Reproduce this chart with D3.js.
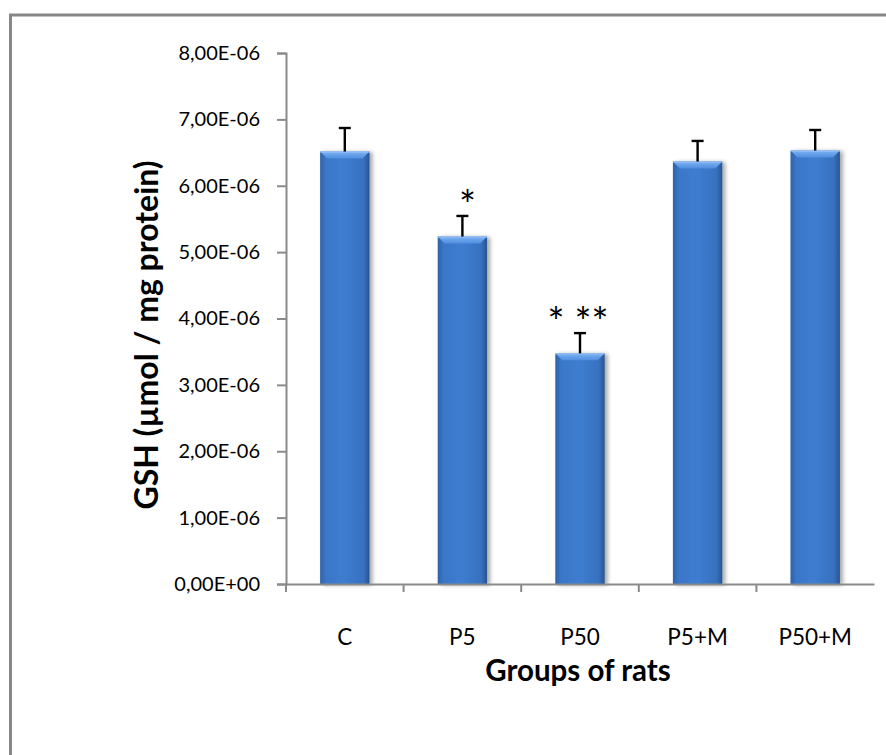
<!DOCTYPE html>
<html>
<head>
<meta charset="utf-8">
<script src="https://cdn.jsdelivr.net/npm/d3@7"></script>
<style>
  html, body { margin: 0; padding: 0; background: #ffffff; }
  svg { display: block; }
  text { font-family: Lato, "Open Sans", "Liberation Sans", sans-serif; fill: #000; }
</style>
</head>
<body>
<svg id="chart" width="886" height="755"></svg>
<script>
// GSH level per group of rats (µmol / mg protein)
const groups = ["C", "P5", "P50", "P5+M", "P50+M"];
const gshMean = [6.515e-6, 5.235e-6, 3.475e-6, 6.365e-6, 6.53e-6];
const gshError = [0.355e-6, 0.31e-6, 0.305e-6, 0.31e-6, 0.31e-6];
const significance = ["", "*", "* **", "", ""];
const yTicks = [0, 1e-6, 2e-6, 3e-6, 4e-6, 5e-6, 6e-6, 7e-6, 8e-6];
const yTitle = "GSH (µmol / mg protein)";
const xTitle = "Groups of rats";

const svg = d3.select("#chart");

// outer frame of the chart area
svg.append("rect")
  .attr("x", 10.5).attr("y", 15)
  .attr("width", 900).attr("height", 800)
  .attr("fill", "none")
  .attr("stroke", "#878787")
  .attr("stroke-width", 3);

const plot = { left: 286, right: 874, top: 53, bottom: 584 };

const x = d3.scaleBand()
  .domain(groups)
  .range([plot.left, plot.right])
  .padding(0);

const y = d3.scaleLinear()
  .domain([0, 8e-6])
  .range([plot.bottom, plot.top]);

// Excel-style scientific notation with comma decimal: 8,00E-06
function sciComma(v) {
  const [m, e] = d3.format(".2e")(v).split("e");
  const exp = parseInt(e, 10);
  const sign = exp < 0 ? "-" : "+";
  return m.replace(".", ",") + "E" + sign + String(Math.abs(exp)).padStart(2, "0");
}

const defs = svg.append("defs");

const bodyGrad = defs.append("linearGradient").attr("id", "barBody")
  .attr("x1", "0").attr("x2", "1").attr("y1", "0").attr("y2", "0");
bodyGrad.append("stop").attr("offset", "0%").attr("stop-color", "#2f62a8");
bodyGrad.append("stop").attr("offset", "12%").attr("stop-color", "#3a77c9");
bodyGrad.append("stop").attr("offset", "50%").attr("stop-color", "#3d7dd0");
bodyGrad.append("stop").attr("offset", "88%").attr("stop-color", "#3771bf");
bodyGrad.append("stop").attr("offset", "100%").attr("stop-color", "#28548f");

const topGrad = defs.append("linearGradient").attr("id", "barTop")
  .attr("x1", "0").attr("x2", "0").attr("y1", "0").attr("y2", "1");
topGrad.append("stop").attr("offset", "0%").attr("stop-color", "#7fb2f2");
topGrad.append("stop").attr("offset", "100%").attr("stop-color", "#4f8ee0");

const shadow = defs.append("filter").attr("id", "barShadow")
  .attr("x", "-30%").attr("y", "-10%").attr("width", "160%").attr("height", "120%");
shadow.append("feGaussianBlur").attr("in", "SourceAlpha").attr("stdDeviation", 2);
shadow.append("feOffset").attr("dx", 3).attr("dy", 1).attr("result", "off");
shadow.append("feComponentTransfer").append("feFuncA").attr("type", "linear").attr("slope", 0.35);
const merge = shadow.append("feMerge");
merge.append("feMergeNode");
merge.append("feMergeNode").attr("in", "SourceGraphic");

// y axis
const yAxis = svg.append("g")
  .attr("transform", `translate(${plot.left},0)`)
  .call(d3.axisLeft(y).tickValues(yTicks).tickFormat(sciComma).tickSize(9).tickPadding(17));
yAxis.attr("font-family", null).attr("font-size", null);
yAxis.select(".domain").attr("stroke", "#8a8a8a").attr("stroke-width", 2);
yAxis.selectAll(".tick line").attr("stroke", "#8a8a8a").attr("stroke-width", 2);
yAxis.selectAll(".tick text")
  .attr("font-size", 20)
  .attr("fill", "#000");

// bars
const barW = x.bandwidth() * 0.42;
const bev = 7;
const bars = svg.append("g").selectAll("g.bar")
  .data(groups.map((g, i) => ({ g, v: gshMean[i], e: gshError[i], s: significance[i] })))
  .join("g").attr("class", "bar");

bars.each(function (d) {
  const gEl = d3.select(this);
  const cx = x(d.g) + x.bandwidth() / 2;
  const x0 = cx - barW / 2, x1 = cx + barW / 2;
  const yt = y(d.v), yb = y(0);
  const body = gEl.append("g").attr("filter", "url(#barShadow)");
  body.append("rect")
    .attr("x", x0).attr("y", yt).attr("width", barW).attr("height", yb - yt)
    .attr("fill", "url(#barBody)");
  body.append("polygon")
    .attr("points", [[x0, yt], [x1, yt], [x1 - bev, yt + bev], [x0 + bev, yt + bev]].map(p => p.join(",")).join(" "))
    .attr("fill", "url(#barTop)");
  body.append("line")
    .attr("x1", x0).attr("x2", x1).attr("y1", yt + 0.5).attr("y2", yt + 0.5)
    .attr("stroke", "#9cc4f6").attr("stroke-width", 1);
});

// error bars
const capW = 12;
bars.each(function (d) {
  const gEl = d3.select(this);
  const cx = x(d.g) + x.bandwidth() / 2;
  gEl.append("line")
    .attr("x1", cx).attr("x2", cx)
    .attr("y1", y(d.v)).attr("y2", y(d.v + d.e))
    .attr("stroke", "#000").attr("stroke-width", 2.4);
  gEl.append("line")
    .attr("x1", cx - capW / 2).attr("x2", cx + capW / 2)
    .attr("y1", y(d.v + d.e)).attr("y2", y(d.v + d.e))
    .attr("stroke", "#000").attr("stroke-width", 2.4);
});

// significance marks
bars.filter(d => d.s).append("text")
  .attr("x", d => x(d.g) + x.bandwidth() / 2 + (d.s.length > 1 ? -2 : 5))
  .attr("y", d => y(d.v + d.e) + 4)
  .attr("text-anchor", "middle")
  .attr("font-size", 40)
  .text(d => d.s);

// x axis (drawn after bars so the line sits on top of their bases)
const xAxis = svg.append("g")
  .attr("transform", `translate(0,${plot.bottom})`)
  .call(d3.axisBottom(x).tickSize(0).tickPadding(0));
xAxis.select(".domain").attr("stroke", "#8a8a8a").attr("stroke-width", 2);
xAxis.selectAll(".tick text").remove();

// boundary ticks between groups
const bounds = groups.map(g => x(g));
svg.append("g").selectAll("line")
  .data(bounds)
  .join("line")
  .attr("x1", d => d).attr("x2", d => d)
  .attr("y1", plot.bottom).attr("y2", plot.bottom + 8)
  .attr("stroke", "#8a8a8a").attr("stroke-width", 2);

// group labels
svg.append("g").selectAll("text")
  .data(groups)
  .join("text")
  .attr("x", d => x(d) + x.bandwidth() / 2)
  .attr("y", 645)
  .attr("text-anchor", "middle")
  .attr("font-size", 22.5)
  .text(d => d);

// axis titles
svg.append("text")
  .attr("x", (plot.left + plot.right) / 2 - 2)
  .attr("y", 681)
  .attr("text-anchor", "middle")
  .attr("font-size", 29.5)
  .attr("font-weight", "bold")
  .text(xTitle);

svg.append("text")
  .attr("transform", "translate(158,335) rotate(-90)")
  .attr("text-anchor", "middle")
  .attr("font-size", 32)
  .attr("font-weight", "bold")
  .text(yTitle);
</script>
</body>
</html>
